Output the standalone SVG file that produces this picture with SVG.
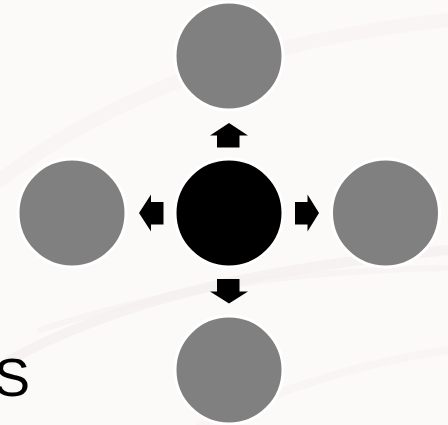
<svg xmlns="http://www.w3.org/2000/svg" width="448" height="425" viewBox="0 0 448 425">
<style>
.node{fill:#808080;stroke:#ffffff;stroke-width:3}
.hub{fill:#000000;stroke:#ffffff;stroke-width:3}
.arr{fill:#000000}
.lbl{font-family:"Liberation Sans",Arial,sans-serif;font-size:54px;fill:#000000}
</style>
<rect width="448" height="425" fill="#fcf9f9"/>
<g id="background" fill="none" stroke-linecap="round">
<path d="M0 180 C120 90 260 40 448 20" stroke="#f6f1f1" stroke-width="14" opacity="0.6"/>
<path d="M10 360 C120 300 250 270 448 250" stroke="#f1ecec" stroke-width="10" opacity="0.6"/>
<path d="M40 330 C160 290 300 270 448 268" stroke="#f5f0f0" stroke-width="6" opacity="0.5"/>
<path d="M200 425 C300 380 380 360 448 350" stroke="#f6f1f1" stroke-width="8" opacity="0.5"/>
</g>
<g id="connectors">
<polygon class="arr" points="229,123 248,135.5 239.5,135.5 239.5,147.5 217,147.5 217,135.5 210,135.5"/>
<polygon class="arr" points="229,303.5 248,291.5 239.5,291.5 239.5,279 217,279 217,291.5 210,291.5"/>
<polygon class="arr" points="139,213 151,194.5 151,202 163.5,202 163.5,224.5 151,224.5 151,231.5"/>
<polygon class="arr" points="319,213 307.5,194.5 307.5,202 295,202 295,224.5 307.5,224.5 307.5,231.5"/>
</g>
<g id="top"><circle class="node" cx="229" cy="56" r="54"/></g>
<g id="left"><circle class="node" cx="72" cy="213" r="54"/></g>
<g id="right"><circle class="node" cx="385.5" cy="213" r="54"/></g>
<g id="bottom"><circle class="node" cx="229" cy="370" r="54"/></g>
<g id="center"><circle class="hub" cx="229" cy="213" r="54"/></g>
<g id="label"><text class="lbl" x="30" y="396" text-anchor="end">S</text></g>
</svg>
